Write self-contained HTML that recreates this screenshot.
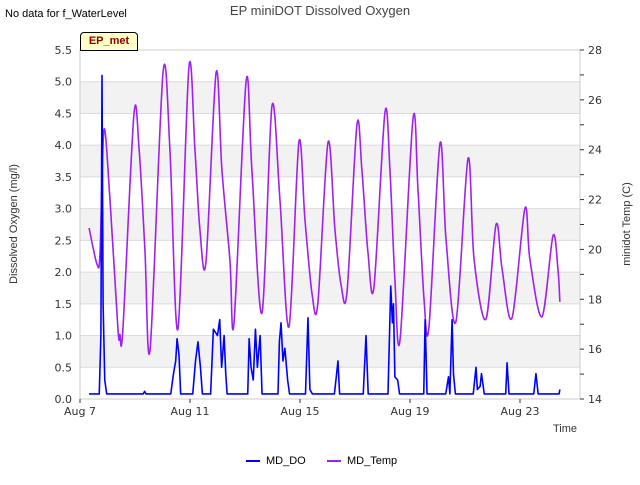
<!DOCTYPE html>
<html><head><meta charset="utf-8"><style>
body{margin:0;background:#fff;font-family:"Liberation Sans","DejaVu Sans",sans-serif}
svg text{font-family:"DejaVu Sans","Liberation Sans",sans-serif}
</style></head><body>
<svg id="c" width="640" height="480" viewBox="0 0 640 480"></svg>
<script>
const tickDays=[0,4,8,12,16];
const tickLabels=["Aug 7","Aug 11","Aug 15","Aug 19","Aug 23"];
const leftTicks=[0,0.5,1,1.5,2,2.5,3,3.5,4,4.5,5,5.5];
const rightTicks=[14,16,18,20,22,24,26,28];
const tempDays=[0.33,0.62,0.73,0.87,1.09,1.38,1.45,1.56,1.96,2.15,2.36,2.55,3.02,3.27,3.56,3.96,4.18,4.36,4.58,4.95,5.16,5.45,5.6,6.04,6.25,6.62,6.98,7.27,7.6,7.96,8.18,8.44,8.65,9.02,9.27,9.49,9.71,10.07,10.25,10.47,10.69,11.09,11.27,11.45,11.64,12.11,12.29,12.51,12.69,13.09,13.31,13.67,14.11,14.33,14.76,15.13,15.35,15.71,16.18,16.36,16.8,17.2,17.38,17.45];
const tempVals=[20.86,19.4,19.9,24.8,22.0,16.8,16.6,16.8,25.4,24.0,20.0,16.0,27.1,24.0,16.8,27.3,24.0,20.8,19.5,27.1,23.2,19.6,17.05,26.75,23.2,17.45,25.75,22.0,16.9,24.3,21.2,18.2,17.85,24.3,20.8,18.6,18.3,25.0,23.2,19.9,18.5,25.5,23.2,18.8,16.4,25.25,22.4,18.0,16.9,24.25,20.4,17.1,23.65,19.6,17.2,21.0,19.2,17.25,21.65,19.6,17.3,20.55,19.2,17.9];
const doDays=[0.33,0.7,0.76,0.8,0.84,0.9,0.97,2.3,2.35,2.4,3.3,3.4,3.48,3.53,3.6,3.66,4.1,4.2,4.29,4.38,4.45,4.75,4.85,5.0,5.08,5.15,5.24,5.3,5.35,5.6,6.1,6.15,6.22,6.3,6.38,6.45,6.55,6.62,7.2,7.25,7.31,7.38,7.45,7.55,7.62,8.2,8.29,8.36,8.45,9.25,9.32,9.38,9.44,10.3,10.4,10.48,11.2,11.3,11.36,11.4,11.45,11.55,11.62,12.5,12.55,12.62,13.3,13.4,13.45,13.53,13.58,13.65,14.3,14.4,14.45,14.55,14.6,14.7,15.48,15.53,15.6,16.5,16.58,16.66,17.42,17.45];
const doVals=[0.08,0.08,1.0,5.1,1.5,0.3,0.08,0.08,0.12,0.08,0.08,0.4,0.6,0.95,0.7,0.08,0.08,0.6,0.9,0.5,0.08,0.08,1.1,1.0,1.25,0.5,1.0,0.4,0.08,0.08,0.08,0.95,0.5,0.3,1.1,0.5,1.0,0.08,0.08,0.9,1.2,0.6,0.8,0.3,0.08,0.08,1.28,0.15,0.08,0.08,0.35,0.6,0.08,0.08,1.0,0.08,0.08,1.78,1.2,1.5,0.35,0.3,0.08,0.08,1.25,0.08,0.08,0.35,0.08,1.25,0.4,0.08,0.08,0.5,0.15,0.2,0.4,0.08,0.08,0.57,0.08,0.08,0.4,0.08,0.08,0.15];
const L=80,R=580,T=50,B=399;
const xs=d=>L+d*27.5;
const yl=v=>B-v*(B-T)/5.5;
const yr=v=>B-(v-14)*(B-T)/14;
const s=document.getElementById('c');const NS='http://www.w3.org/2000/svg';
function mk(t,a,txt){const e=document.createElementNS(NS,t);for(const k in a)e.setAttribute(k,a[k]);if(txt!=null)e.textContent=txt;s.appendChild(e);return e;}
function smooth(p){let d='M'+p[0][0]+','+p[0][1];for(let i=0;i<p.length-1;i++){const p0=p[i-1]||p[i],p1=p[i],p2=p[i+1],p3=p[i+2]||p2;const k=0.16;
const c1x=p1[0]+(p2[0]-p0[0])*k,c1y=p1[1]+(p2[1]-p0[1])*k,c2x=p2[0]-(p3[0]-p1[0])*k,c2y=p2[1]-(p3[1]-p1[1])*k;
d+=' C'+c1x+','+c1y+' '+c2x+','+c2y+' '+p2[0]+','+p2[1];}return d;}
for(let i=0;i<leftTicks.length-1;i++){if(i%2===1){const b=mk('rect',{x:L,y:yl(leftTicks[i+1]),width:R-L,height:yl(leftTicks[i])-yl(leftTicks[i+1]),fill:'#f2f2f2'});

}}
leftTicks.forEach(v=>{const g=mk('line',{x1:L,x2:R,y1:yl(v),y2:yl(v),stroke:'#dcdcdc'});


const t=mk('text',{x:L-8,y:yl(v)+4,'text-anchor':'end','font-size':11,fill:'#333'},v.toFixed(1));

});
mk('rect',{x:L,y:T,width:R-L,height:B-T,fill:'none',stroke:'#ccc'});
rightTicks.forEach(v=>{const t=mk('text',{x:R+8,y:yr(v)+4,'font-size':11,fill:'#333'},v);


mk('line',{x1:R,x2:R+4,y1:yr(v),y2:yr(v),stroke:'#333'});
if(v<28)mk('line',{x1:R,x2:R+4,y1:yr(v+1),y2:yr(v+1),stroke:'#333'});});
tickDays.forEach((d,i)=>{mk('line',{x1:xs(d),x2:xs(d),y1:B,y2:B+4,stroke:'#333'});
const t=mk('text',{x:xs(d),y:B+16,'text-anchor':'middle','font-size':11,fill:'#333'},tickLabels[i]);

});
const tp=mk('path',{d:smooth(tempDays.map((d,i)=>[xs(d),yr(tempVals[i])])),fill:'none',stroke:'#a020f0','stroke-width':1.6,'stroke-linejoin':'round'});


const dp=mk('polyline',{points:doDays.map((d,i)=>xs(d)+','+yl(doVals[i])).join(' '),fill:'none',stroke:'#0000ff','stroke-width':1.6,'stroke-linejoin':'round'});


</script>
<div style="position:absolute;left:0;top:0;width:640px;height:480px;pointer-events:none">
<div style="position:absolute;left:5px;top:8px;font-size:11px;color:#000">No data for f_WaterLevel</div>
<div style="position:absolute;left:0;width:640px;top:3px;text-align:center;font-size:13px;color:#444">EP miniDOT Dissolved Oxygen</div>
<div style="position:absolute;left:80px;top:32px;width:56px;height:17px;background:#ffffc8;border:1px solid #000;border-radius:4px 4px 0 0;font-size:11px;font-weight:bold;color:#8b0000;text-align:center;line-height:17px">EP_met</div>
<div style="position:absolute;left:-56px;top:218px;width:140px;text-align:center;transform:rotate(-90deg);font-size:11px;color:#333">Dissolved Oxygen (mg/l)</div>
<div style="position:absolute;left:572px;top:218px;width:110px;text-align:center;transform:rotate(-90deg);font-size:11px;color:#333">minidot Temp (C)</div>
<div style="position:absolute;left:553px;top:423px;font-size:11px;color:#333">Time</div>
<div style="position:absolute;left:246px;top:455px;font-size:11px;color:#000"><span style="display:inline-block;width:14px;border-top:2px solid #00f;vertical-align:middle;margin-right:6px"></span>MD_DO</div>
<div style="position:absolute;left:327px;top:455px;font-size:11px;color:#000"><span style="display:inline-block;width:14px;border-top:2px solid #a020f0;vertical-align:middle;margin-right:6px"></span>MD_Temp</div>
</div>
</body></html>
